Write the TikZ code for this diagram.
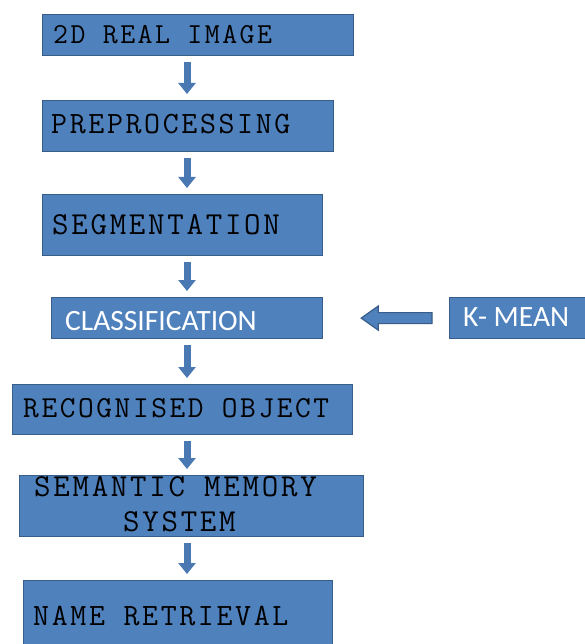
\documentclass[tikz,border=0pt]{standalone}
\usepackage{fontspec}
\newfontfamily\calib{Carlito}
\newfontfamily\typew[LetterSpace=8.5]{Latin Modern Mono}
\usetikzlibrary{arrows.meta,calc}
\definecolor{boxfill}{HTML}{4F81BD}
\definecolor{boxedge}{HTML}{385D8A}
\definecolor{arrowblue}{HTML}{4A78B2}

\begin{document}
\begin{tikzpicture}[x=1pt,y=-1pt,
  box/.style={draw=boxedge, fill=boxfill, line width=1.2pt, anchor=north west, inner sep=0pt},
  lbl/.style={anchor=base west, inner sep=0pt, text=black,
    font=\typew\fontsize{#1}{#1}\selectfont},
  lbl/.default=31,
  wlbl/.style={anchor=base west, inner sep=0pt, font=\calib\fontsize{29.5}{32}\selectfont, text=white},
  flow/.style={draw=arrowblue, line width=7pt, -{Triangle[width=17pt,length=11pt]}, shorten <=6pt, shorten >=6pt},
  fatarrow/.style={draw=boxedge, fill=boxfill, line width=1.2pt, line join=miter}]
\useasboundingbox (0,0) rectangle (585,644);
\fill[white] (0,0) rectangle (585,644);

% process boxes
\node[box, minimum width=311pt, minimum height=41pt] (b1) at (42,14) {};
\node[box, minimum width=291pt, minimum height=51pt] (b2) at (42,100) {};
\node[box, minimum width=280pt, minimum height=61pt] (b3) at (42,194) {};
\node[box, minimum width=271pt, minimum height=41pt] (b4) at (51,297) {};
\node[box, minimum width=340pt, minimum height=50pt] (b5) at (12,384) {};
\node[box, minimum width=344pt, minimum height=61pt] (b6) at (19,475) {};
\node[box, minimum width=309pt, minimum height=80pt] (b7) at (23,580) {};
\node[box, minimum width=146pt, minimum height=41pt] (km) at (449,297) {};

% labels
\node[lbl=29] at (53,44) {2D REAL IMAGE};
\node[lbl=31] at (51,134) {PREPROCESSING};
\node[lbl=32] at (52,234) {SEGMENTATION};
\node[wlbl] at (65,330) {CLASSIFICATION};
\node[wlbl] at (463,326) {K- MEAN};
\node[lbl=30.5] at (23,417) {RECOGNISED OBJECT};
\node[lbl=32] at (34,496) {SEMANTIC MEMORY};
\node[lbl=32] at (123,531) {SYSTEM};
\node[lbl=31] at (33,625) {NAME RETRIEVAL};

% downward flow
\coordinate (axis) at (187,0);
\draw[flow] (b1.south -| axis) -- (b2.north -| axis);
\draw[flow] (b2.south -| axis) -- (b3.north -| axis);
\draw[flow] (b3.south -| axis) -- (b4.north -| axis);
\draw[flow] (b4.south -| axis) -- (b5.north -| axis);
\draw[flow] (b5.south -| axis) -- (b6.north -| axis);
\draw[flow] (b6.south -| axis) -- (b7.north -| axis);

% block arrow from K-MEAN into classification
\coordinate (kmtail) at ($(km.west)+(-17,0)$);
\coordinate (kmtip) at ($(b4.east)+(38,0)$);
\draw[fatarrow] ([shift={(0,-5.5)}]kmtail) -- ([shift={(17,-5.5)}]kmtip)
  -- ([shift={(17,-12)}]kmtip) -- (kmtip) -- ([shift={(17,12)}]kmtip)
  -- ([shift={(17,5.5)}]kmtip) -- ([shift={(0,5.5)}]kmtail) -- cycle;
\end{tikzpicture}
\end{document}
